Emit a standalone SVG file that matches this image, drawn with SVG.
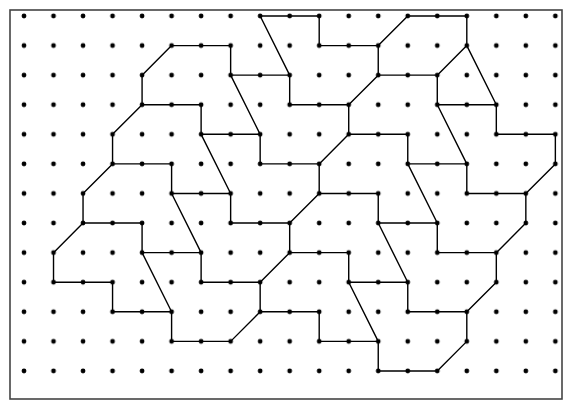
<svg xmlns="http://www.w3.org/2000/svg" width="572" height="409" viewBox="0 0 572 409">
  <style>
    .frame { fill: #ffffff; stroke: #444444; stroke-width: 1.6; }
    .edge { fill: none; stroke: #000000; stroke-width: 1.4; stroke-linejoin: round; stroke-linecap: round; vector-effect: non-scaling-stroke; }
  </style>
  <defs>
    <pattern id="dots" patternUnits="userSpaceOnUse" x="9.24" y="1.21" width="29.52" height="29.58">
      <circle cx="14.76" cy="14.79" r="2.4" fill="#000000"/>
    </pattern>
  </defs>
  <rect id="frame" class="frame" x="10" y="10" width="552" height="389"/>
  <g id="grid">
    <rect x="12" y="4" width="552" height="382" fill="url(#dots)"/>
  </g>
  <g id="connectors" transform="translate(24,16) scale(29.52,29.58)">
    <polyline class="edge" points="8,0 10,0 10,1 12,1 13,0 15,0 15,1 16,3 16,4 18,4 18,5 17,6 17,7 16,8 16,9 15,10 15,11 14,12 12,12 12,11 10,11 10,10 8,10 7,11 5,11 5,10 3,10 3,9 1,9 1,8 2,7 2,6 3,5 3,4 4,3 4,2 5,1 7,1 7,2 9,2 8,0"/>
    <polyline class="edge" points="12,1 12,2 11,3 9,3 9,2"/>
    <polyline class="edge" points="12,2 14,2 15,1"/>
    <polyline class="edge" points="14,2 14,3 16,3"/>
    <polyline class="edge" points="14,3 15,5 15,6 17,6"/>
    <polyline class="edge" points="13,4 13,5 15,5"/>
    <polyline class="edge" points="11,3 11,4 13,4"/>
    <polyline class="edge" points="11,4 10,5 8,5 8,4 6,4 6,3 4,3"/>
    <polyline class="edge" points="7,2 8,4"/>
    <polyline class="edge" points="6,4 7,6 7,7 9,7 10,6 10,5"/>
    <polyline class="edge" points="10,6 12,6 12,7 14,7 14,8 16,8"/>
    <polyline class="edge" points="13,5 14,7"/>
    <polyline class="edge" points="12,7 13,9 13,10 15,10"/>
    <polyline class="edge" points="11,9 13,9"/>
    <polyline class="edge" points="11,9 12,11"/>
    <polyline class="edge" points="9,7 9,8 11,8 11,9"/>
    <polyline class="edge" points="9,8 8,9 8,10"/>
    <polyline class="edge" points="8,9 6,9 6,8 4,8 4,7 2,7"/>
    <polyline class="edge" points="6,8 5,6 7,6"/>
    <polyline class="edge" points="5,6 5,5 3,5"/>
    <polyline class="edge" points="4,8 5,10"/>
  </g>
</svg>
